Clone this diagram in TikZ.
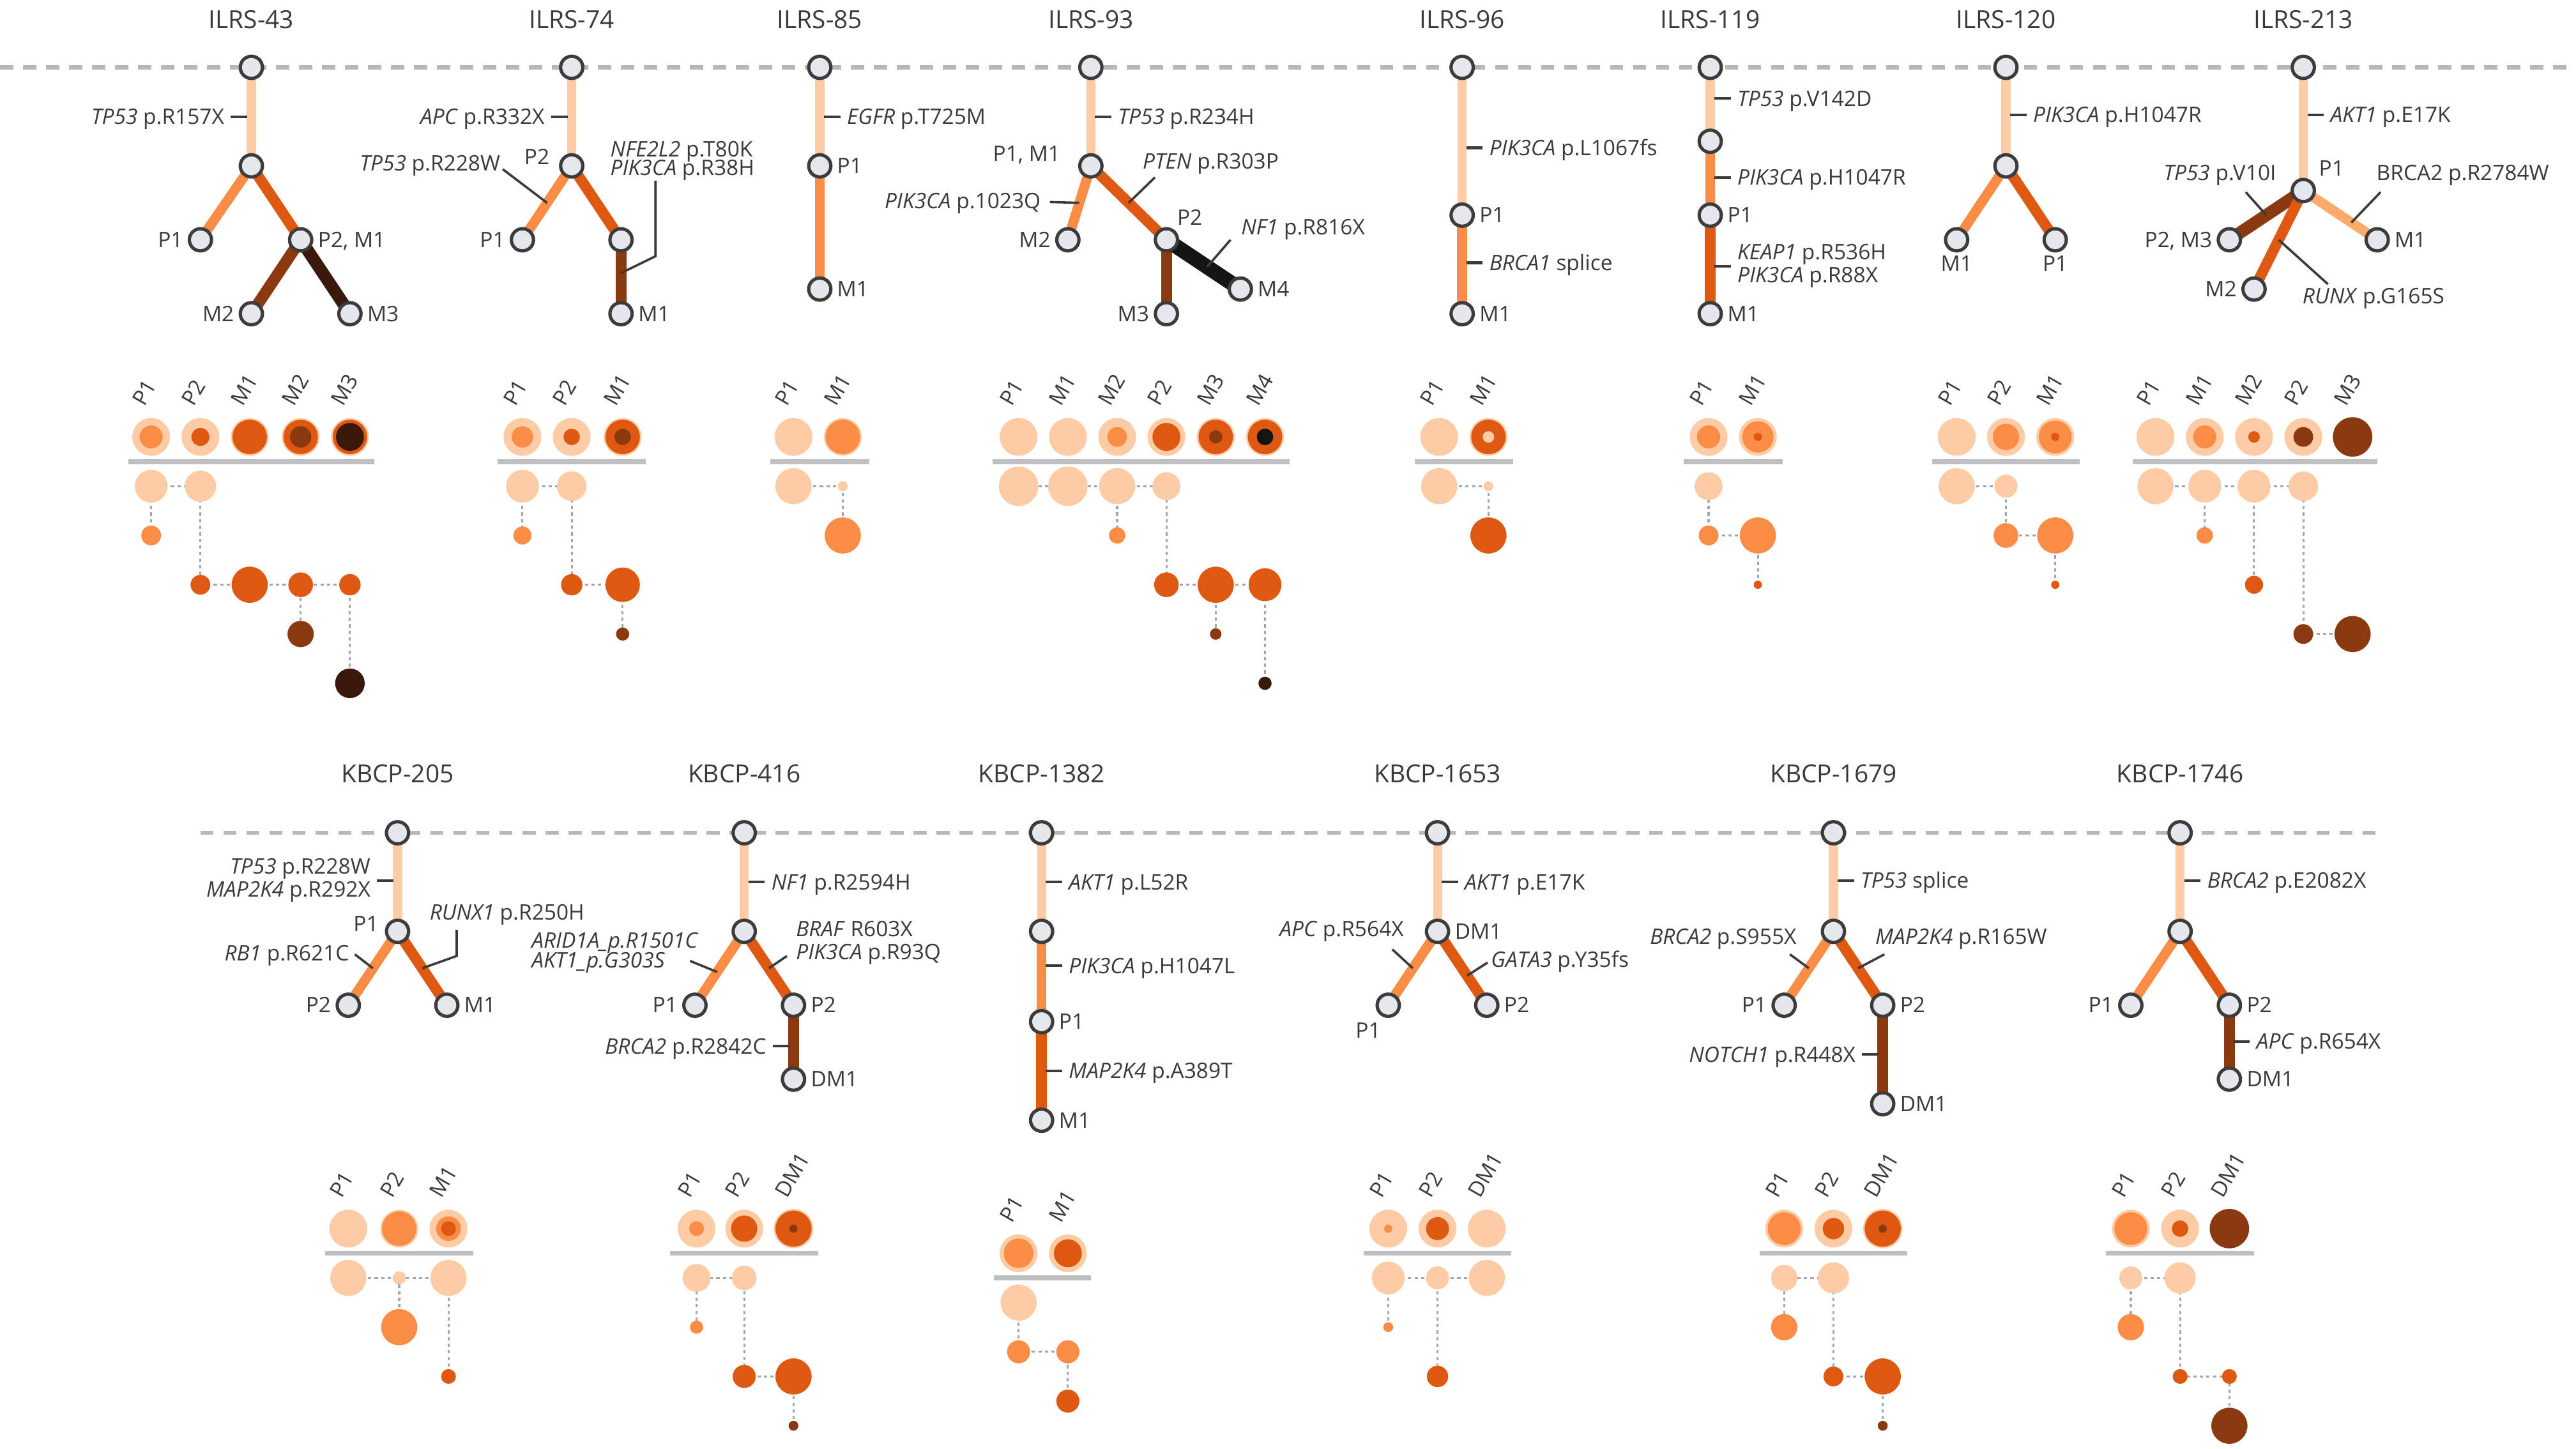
\documentclass[tikz,border=0pt]{standalone}
\usepackage{fontspec}
\setmainfont{Open Sans}
\usetikzlibrary{calc}
\pgfdeclarelayer{back}
\pgfdeclarelayer{bg}
\pgfsetlayers{back,bg,main}
\definecolor{c1}{HTML}{FDCBA4}
\definecolor{c2}{HTML}{FDAA6A}
\definecolor{c3}{HTML}{FB8C46}
\definecolor{c4}{HTML}{DE5811}
\definecolor{c5}{HTML}{8A3A0E}
\definecolor{c6}{HTML}{3A190B}
\definecolor{ck}{HTML}{141414}
\definecolor{txt}{HTML}{3A3A3A}
\definecolor{nodefill}{HTML}{E4E7EB}
\definecolor{nodeedge}{HTML}{3C3C3C}
\definecolor{dashgray}{HTML}{B8B8B8}
\definecolor{sepgray}{HTML}{BFBFC2}
\definecolor{dotgray}{HTML}{9EA6AE}
\newcommand\fsT{\fontsize{43}{48}\selectfont}
\newcommand\fsL{\fontsize{37}{40}\selectfont}
\tikzset{
 tnode/.style={circle,draw=nodeedge,fill=nodefill,line width=2mm,minimum size=13.5mm,inner sep=0pt},
 lbl/.style={text=txt,font=\fsL,inner sep=0.5mm},
 ttl/.style={text=txt,font=\fsT,inner sep=0pt},
 mut/.style={text=txt,font=\fsL,inner sep=0.5mm},
 tick/.style={draw=txt,line width=1.6mm},
 lead/.style={draw=txt,line width=1.4mm},
 sepl/.style={draw=sepgray,line width=3mm},
 dotl/.style={draw=dotgray,line width=1.2mm,dash pattern=on 2mm off 2mm},
 dashl/.style={draw=dashgray,line width=2.5mm,dash pattern=on 8mm off 6mm},
 dot/.style={circle,inner sep=0pt,draw=none},
 col/.style={text=txt,font=\fsL,rotate=60,anchor=base west,inner sep=0pt},
}
\newcommand\TN[3]{\node[tnode] (#1) at (#2,#3) {};}
\newcommand\LL[4]{\node[lbl,anchor=base east] (#1) at (#2-10,#3+4.6) {#4};}
\newcommand\LR[4]{\node[lbl,anchor=base west] (#1) at (#2+10,#3+4.6) {#4};}
\newcommand\LB[4]{\node[lbl,anchor=north] (#1) at (#2,#3+9) {#4};}
\newcommand\NL[5]{\node[lbl,anchor=#4] (#1) at (#2,#3) {#5};}
\newcommand\ED[4]{\draw[draw=#3,line width=#4mm] (#1.center) -- (#2.center);}
\newcommand\ML[4]{\node[mut,anchor=base east] (#1) at (#2-16,#3+4.6) {#4};
 \draw[tick] ([xshift=3.5mm,yshift=4.6mm]#1.base east) -- ([xshift=13.5mm,yshift=4.6mm]#1.base east);}
\newcommand\MR[4]{\node[mut,anchor=base west] (#1) at (#2+16,#3+4.6) {#4};
 \draw[tick] ([xshift=-13.5mm,yshift=4.6mm]#1.base west) -- ([xshift=-3.5mm,yshift=4.6mm]#1.base west);}
\newcommand\MLt[4]{\node[mut,anchor=east,align=right] (#1) at (#2-16,#3) {#4};
 \draw[tick] ([xshift=3.5mm]#1.east) -- ([xshift=13.5mm]#1.east);}
\newcommand\MRt[4]{\node[mut,anchor=west,align=left] (#1) at (#2+16,#3) {#4};
 \draw[tick] ([xshift=-13.5mm]#1.west) -- ([xshift=-3.5mm]#1.west);}
\newcommand\DT[5]{\node[dot,fill=#4,minimum size=#5mm] (#1) at (#2,#3) {};}
\newcommand\CL[4]{\node[col] (#1) at (#2-4,#3) {#4};}
\newcommand\DL[2]{\begin{pgfonlayer}{bg}\draw[dotl] (#1.center) -- (#2.center);\end{pgfonlayer}}
\newcommand\SEP[4]{\coordinate (#1a) at (#2,#4); \coordinate (#1b) at (#3,#4); \draw[sepl] (#1a) -- (#1b);}
\begin{document}
\begin{tikzpicture}[x=1mm,y=-1mm]
\useasboundingbox (0,0) rectangle (1568,882);
\begin{pgfonlayer}{back}
\fill[white] (0,0) rectangle (1568,882);
\end{pgfonlayer}
\coordinate (dashA1) at (0,41); \coordinate (dashA2) at (1568,41);
\coordinate (dashB1) at (122,507); \coordinate (dashB2) at (1448,507);
\begin{pgfonlayer}{bg}
\draw[dashl] (dashA1) -- (dashA2);
\draw[dashl] (dashB1) -- (dashB2);
\end{pgfonlayer}

% ================= ILRS-43
\node[ttl] (A-t) at (153,12) {ILRS-43};
\TN{A0}{153}{41}\TN{A1}{153}{101}\TN{A2}{122}{146}\TN{A3}{183}{146}\TN{A4}{153}{191}\TN{A5}{213}{191}
\LL{A2l}{122}{146}{P1}\LR{A3l}{183}{146}{P2, M1}\LL{A4l}{153}{191}{M2}\LR{A5l}{213}{191}{M3}
\ML{A-m1}{153}{71}{\textit{TP53} p.R157X}
\begin{pgfonlayer}{bg}
\ED{A0}{A1}{c1}{5.5}\ED{A1}{A2}{c3}{6}\ED{A1}{A3}{c4}{6.5}\ED{A3}{A4}{c5}{7}\ED{A3}{A5}{c6}{7.5}
\end{pgfonlayer}

% ================= ILRS-74
\node[ttl] (B-t) at (348,12) {ILRS-74};
\TN{B0}{348}{41}\TN{B1}{348}{101}\TN{B2}{318}{146}\TN{B3}{378}{146}\TN{B4}{378}{191}
\NL{B1l}{335}{100}{base east}{P2}\LL{B2l}{318}{146}{P1}\LR{B4l}{378}{191}{M1}
\ML{B-m1}{348}{71}{\textit{APC} p.R332X}
\node[mut,anchor=base east] (B-m2) at (305,104) {\textit{TP53} p.R228W};
\coordinate (B-e2) at ($(B1)!0.5!(B2)$);
\draw[lead] ([xshift=1mm,yshift=1mm]B-m2.base east) -- (B-e2);
\node[mut,anchor=west,align=left] (B-m3) at (371,98) {\textit{NFE2L2} p.T80K\\[-3mm]\textit{PIK3CA} p.R38H};
\coordinate (B-k3a) at (399,110); \coordinate (B-k3b) at (399,156);
\coordinate (B-e3) at ($(B3)!0.45!(B4)$);
\draw[lead] (B-k3a) -- (B-k3b) -- (B-e3);
\begin{pgfonlayer}{bg}
\ED{B0}{B1}{c1}{5.5}\ED{B1}{B2}{c3}{6}\ED{B1}{B3}{c4}{6.5}\ED{B3}{B4}{c5}{6.5}
\end{pgfonlayer}

% ================= ILRS-85
\node[ttl] (C-t) at (499,12) {ILRS-85};
\TN{C0}{499}{41}\TN{C1}{499}{101}\TN{C2}{499}{176}
\LR{C1l}{499}{101}{P1}\LR{C2l}{499}{176}{M1}
\MR{C-m1}{499}{71}{\textit{EGFR} p.T725M}
\begin{pgfonlayer}{bg}
\ED{C0}{C1}{c1}{5.5}\ED{C1}{C2}{c3}{6}
\end{pgfonlayer}

% ================= ILRS-93
\node[ttl] (D-t) at (664,12) {ILRS-93};
\TN{D0}{664}{41}\TN{D1}{664}{101}\TN{D2}{650}{146}\TN{D3}{710}{146}\TN{D4}{710}{191}\TN{D5}{755}{176}
\NL{D1l}{646}{98}{base east}{P1, M1}\LL{D2l}{650}{146}{M2}\NL{D3l}{716}{137}{base west}{P2}
\LL{D4l}{710}{191}{M3}\LR{D5l}{755}{176}{M4}
\MR{D-m1}{664}{71}{\textit{TP53} p.R234H}
\node[mut,anchor=base west] (D-m2) at (695,103) {\textit{PTEN} p.R303P};
\coordinate (D-k2) at (703,108); \coordinate (D-e2) at ($(D1)!0.5!(D3)$);
\draw[lead] (D-k2) -- (D-e2);
\node[mut,anchor=base east] (D-m3) at (634,127) {\textit{PIK3CA} p.1023Q};
\coordinate (D-e3) at ($(D1)!0.5!(D2)$);
\draw[lead] ([xshift=5mm,yshift=4mm]D-m3.base east) -- (D-e3);
\node[mut,anchor=base west] (D-m4) at (755,143) {\textit{NF1} p.R816X};
\coordinate (D-k4) at (749,146); \coordinate (D-e4) at ($(D3)!0.55!(D5)$);
\draw[lead] (D-k4) -- (D-e4);
\begin{pgfonlayer}{bg}
\ED{D0}{D1}{c1}{5.5}\ED{D1}{D2}{c3}{6}\ED{D1}{D3}{c4}{6.5}\ED{D3}{D4}{c5}{6.5}\ED{D3}{D5}{ck}{9}
\end{pgfonlayer}

% ================= ILRS-96
\node[ttl] (E-t) at (890,12) {ILRS-96};
\TN{E0}{890}{41}\TN{E1}{890}{131}\TN{E2}{890}{191}
\LR{E1l}{890}{131}{P1}\LR{E2l}{890}{191}{M1}
\MR{E-m1}{890}{90}{\textit{PIK3CA} p.L1067fs}
\MR{E-m2}{890}{160}{\textit{BRCA1} splice}
\begin{pgfonlayer}{bg}
\ED{E0}{E1}{c1}{5.5}\ED{E1}{E2}{c3}{6}
\end{pgfonlayer}

% ================= ILRS-119
\node[ttl] (F-t) at (1041,12) {ILRS-119};
\TN{F0}{1041}{41}\TN{F1}{1041}{86}\TN{F2}{1041}{131}\TN{F3}{1041}{191}
\LR{F2l}{1041}{131}{P1}\LR{F3l}{1041}{191}{M1}
\MR{F-m1}{1041}{60}{\textit{TP53} p.V142D}
\MR{F-m2}{1041}{108}{\textit{PIK3CA} p.H1047R}
\MRt{F-m3}{1041}{162}{\textit{KEAP1} p.R536H\\\textit{PIK3CA} p.R88X}
\begin{pgfonlayer}{bg}
\ED{F0}{F1}{c1}{5.5}\ED{F1}{F2}{c3}{6}\ED{F2}{F3}{c4}{6.5}
\end{pgfonlayer}

% ================= ILRS-120
\node[ttl] (G-t) at (1221,12) {ILRS-120};
\TN{G0}{1221}{41}\TN{G1}{1221}{101}\TN{G2}{1191}{146}\TN{G3}{1251}{146}
\LB{G2l}{1191}{146}{M1}\LB{G3l}{1251}{146}{P1}
\MR{G-m1}{1221}{70}{\textit{PIK3CA} p.H1047R}
\begin{pgfonlayer}{bg}
\ED{G0}{G1}{c1}{5.5}\ED{G1}{G2}{c3}{6}\ED{G1}{G3}{c4}{6.5}
\end{pgfonlayer}

% ================= ILRS-213
\node[ttl] (H-t) at (1402,12) {ILRS-213};
\TN{H0}{1402}{41}\TN{H1}{1402}{116}\TN{H2}{1357}{146}\TN{H3}{1372}{176}\TN{H4}{1447}{146}
\NL{H1l}{1411}{107}{base west}{P1}\LL{H2l}{1357}{146}{P2, M3}\LL{H3l}{1372}{176}{M2}\LR{H4l}{1447}{146}{M1}
\MR{H-m1}{1402}{70}{\textit{AKT1} p.E17K}
\node[mut,anchor=base east] (H-m2) at (1386,110) {\textit{TP53} p.V10I};
\coordinate (H-k2) at (1367,117); \coordinate (H-e2) at ($(H1)!0.5!(H2)$);
\draw[lead] (H-k2) -- (H-e2);
\node[mut,anchor=base west] (H-m3) at (1446,110) {BRCA2 p.R2784W};
\coordinate (H-k3) at (1449,117); \coordinate (H-e3) at ($(H1)!0.65!(H4)$);
\draw[lead] (H-k3) -- (H-e3);
\node[mut,anchor=base west] (H-m4) at (1401,185) {\textit{RUNX} p.G165S};
\coordinate (H-k4) at (1417,173); \coordinate (H-e4) at ($(H1)!0.5!(H3)$);
\draw[lead] (H-k4) -- (H-e4);
\begin{pgfonlayer}{bg}
\ED{H0}{H1}{c1}{5.5}\ED{H1}{H2}{c5}{7.5}\ED{H1}{H3}{c4}{6.5}\ED{H1}{H4}{c2}{6}
\end{pgfonlayer}

% ================= KBCP-205
\node[ttl] (K-t) at (242,471) {KBCP-205};
\TN{K0}{242}{507}\TN{K1}{242}{567}\TN{K2}{212}{612}\TN{K3}{272}{612}
\NL{K1l}{231}{567}{base east}{P1}\LL{K2l}{212}{612}{P2}\LR{K3l}{272}{612}{M1}
\MLt{K-m1}{242}{536}{\textit{TP53} p.R228W\\\textit{MAP2K4} p.R292X}
\node[mut,anchor=base west] (K-m2) at (261,560) {\textit{RUNX1} p.R250H};
\coordinate (K-k2a) at (278,566); \coordinate (K-k2b) at (278,582); \coordinate (K-e2) at ($(K1)!0.5!(K3)$);
\draw[lead] (K-k2a) -- (K-k2b) -- (K-e2);
\node[mut,anchor=base east] (K-m3) at (213,585) {\textit{RB1} p.R621C};
\coordinate (K-k3) at (216,581); \coordinate (K-e3) at ($(K1)!0.5!(K2)$);
\draw[lead] (K-k3) -- (K-e3);
\begin{pgfonlayer}{bg}
\ED{K0}{K1}{c1}{5.5}\ED{K1}{K2}{c3}{6}\ED{K1}{K3}{c4}{6.5}
\end{pgfonlayer}

% ================= KBCP-416
\node[ttl] (L-t) at (453,471) {KBCP-416};
\TN{L0}{453}{507}\TN{L1}{453}{567}\TN{L2}{423}{612}\TN{L3}{483}{612}\TN{L4}{483}{657}
\LL{L2l}{423}{612}{P1}\LR{L3l}{483}{612}{P2}\LR{L4l}{483}{657}{DM1}
\MR{L-m1}{453}{537}{\textit{NF1} p.R2594H}
\node[mut,anchor=west,align=left] (L-m2) at (484,574) {\textit{BRAF} R603X\\\textit{PIK3CA} p.R93Q};
\coordinate (L-k2) at (479,582); \coordinate (L-e2) at ($(L1)!0.5!(L3)$);
\draw[lead] (L-k2) -- (L-e2);
\node[mut,anchor=west,align=left] (L-m3) at (323,580) {\textit{ARID1A\_p.R1501C}\\[-2mm]\textit{AKT1\_p.G303S}};
\coordinate (L-k3) at (420,585); \coordinate (L-e3) at ($(L1)!0.55!(L2)$);
\draw[lead] (L-k3) -- (L-e3);
\ML{L-m4}{483}{637}{\textit{BRCA2} p.R2842C}
\begin{pgfonlayer}{bg}
\ED{L0}{L1}{c1}{5.5}\ED{L1}{L2}{c3}{6}\ED{L1}{L3}{c4}{6.5}\ED{L3}{L4}{c5}{6.5}
\end{pgfonlayer}

% ================= KBCP-1382
\node[ttl] (M-t) at (634,471) {KBCP-1382};
\TN{M0}{634}{507}\TN{M1}{634}{567}\TN{M2}{634}{622}\TN{M3}{634}{682}
\LR{M2l}{634}{622}{P1}\LR{M3l}{634}{682}{M1}
\MR{M-m1}{634}{537}{\textit{AKT1} p.L52R}
\MR{M-m2}{634}{588}{\textit{PIK3CA} p.H1047L}
\MR{M-m3}{634}{652}{\textit{MAP2K4} p.A389T}
\begin{pgfonlayer}{bg}
\ED{M0}{M1}{c1}{5.5}\ED{M1}{M2}{c3}{6}\ED{M2}{M3}{c4}{6.5}
\end{pgfonlayer}

% ================= KBCP-1653
\node[ttl] (N-t) at (875,471) {KBCP-1653};
\TN{N0}{875}{507}\TN{N1}{875}{567}\TN{N2}{845}{612}\TN{N3}{905}{612}
\LR{N1l}{875}{567}{DM1}\NL{N2l}{841}{632}{base east}{P1}\LR{N3l}{905}{612}{P2}
\MR{N-m1}{875}{537}{\textit{AKT1} p.E17K}
\node[mut,anchor=base east] (N-m2) at (855,570) {\textit{APC} p.R564X};
\coordinate (N-k2) at (847.5,578); \coordinate (N-e2) at ($(N1)!0.5!(N2)$);
\draw[lead] (N-k2) -- (N-e2);
\node[mut,anchor=base west] (N-m3) at (907,589) {\textit{GATA3} p.Y35fs};
\coordinate (N-k3) at (905.5,586); \coordinate (N-e3) at ($(N1)!0.6!(N3)$);
\draw[lead] (N-k3) -- (N-e3);
\begin{pgfonlayer}{bg}
\ED{N0}{N1}{c1}{5.5}\ED{N1}{N2}{c3}{6}\ED{N1}{N3}{c4}{6.5}
\end{pgfonlayer}

% ================= KBCP-1679
\node[ttl] (O-t) at (1116,471) {KBCP-1679};
\TN{O0}{1116}{507}\TN{O1}{1116}{567}\TN{O2}{1086}{612}\TN{O3}{1146}{612}\TN{O4}{1146}{672}
\LL{O2l}{1086}{612}{P1}\LR{O3l}{1146}{612}{P2}\LR{O4l}{1146}{672}{DM1}
\MR{O-m1}{1116}{536}{\textit{TP53} splice}
\node[mut,anchor=base east] (O-m2) at (1094,575) {\textit{BRCA2} p.S955X};
\coordinate (O-k2) at (1089.5,581); \coordinate (O-e2) at ($(O1)!0.5!(O2)$);
\draw[lead] (O-k2) -- (O-e2);
\node[mut,anchor=base west] (O-m3) at (1141,575) {\textit{MAP2K4} p.R165W};
\coordinate (O-k3) at (1147,581); \coordinate (O-e3) at ($(O1)!0.5!(O3)$);
\draw[lead] (O-k3) -- (O-e3);
\ML{O-m4}{1146}{642}{\textit{NOTCH1} p.R448X}
\begin{pgfonlayer}{bg}
\ED{O0}{O1}{c1}{5.5}\ED{O1}{O2}{c3}{6}\ED{O1}{O3}{c4}{6.5}\ED{O3}{O4}{c5}{6.5}
\end{pgfonlayer}

% ================= KBCP-1746
\node[ttl] (Q-t) at (1327,471) {KBCP-1746};
\TN{Q0}{1327}{507}\TN{Q1}{1327}{567}\TN{Q2}{1297}{612}\TN{Q3}{1357}{612}\TN{Q4}{1357}{657}
\LL{Q2l}{1297}{612}{P1}\LR{Q3l}{1357}{612}{P2}\LR{Q4l}{1357}{657}{DM1}
\MR{Q-m1}{1327}{536}{\textit{BRCA2} p.E2082X}
\MR{Q-m2}{1357}{634}{\textit{APC} p.R654X}
\begin{pgfonlayer}{bg}
\ED{Q0}{Q1}{c1}{5.5}\ED{Q1}{Q2}{c3}{6}\ED{Q1}{Q3}{c4}{6.5}\ED{Q3}{Q4}{c5}{6.5}
\end{pgfonlayer}

% ================= dot plots, top row
% ILRS-43
\CL{Ad-l1}{92}{248}{P1}\CL{Ad-l2}{122}{248}{P2}\CL{Ad-l3}{152}{248}{M1}\CL{Ad-l4}{183}{248}{M2}\CL{Ad-l5}{213}{248}{M3}
\DT{Ad-t1}{92}{266}{c1}{23}\DT{Ad-t1b}{92}{266}{c3}{14}
\DT{Ad-t2}{122}{266}{c1}{23}\DT{Ad-t2b}{122}{266}{c4}{11}
\DT{Ad-t3}{152}{266}{c1}{23}\DT{Ad-t3b}{152}{266}{c4}{21}
\DT{Ad-t4}{183}{266}{c1}{23}\DT{Ad-t4b}{183}{266}{c4}{21}\DT{Ad-t4c}{183}{266}{c5}{13}
\DT{Ad-t5}{213}{266}{c1}{23}\DT{Ad-t5b}{213}{266}{c4}{21}\DT{Ad-t5c}{213}{266}{c6}{17}
\SEP{Ad-s}{78}{228}{281}
\DT{Ad-11}{92}{296}{c1}{20}\DT{Ad-12}{122}{296}{c1}{19}
\DT{Ad-21}{92}{326}{c3}{12}
\DT{Ad-32}{122}{356}{c4}{12}\DT{Ad-33}{152}{356}{c4}{22}\DT{Ad-34}{183}{356}{c4}{15}\DT{Ad-35}{213}{356}{c4}{13}
\DT{Ad-44}{183}{386}{c5}{16}
\DT{Ad-55}{213}{416}{c6}{18}
\DL{Ad-11}{Ad-12}\DL{Ad-11}{Ad-21}\DL{Ad-12}{Ad-32}\DL{Ad-32}{Ad-33}\DL{Ad-33}{Ad-34}\DL{Ad-34}{Ad-35}\DL{Ad-34}{Ad-44}\DL{Ad-35}{Ad-55}
% ILRS-74
\CL{Bd-l1}{318}{248}{P1}\CL{Bd-l2}{348}{248}{P2}\CL{Bd-l3}{379}{248}{M1}
\DT{Bd-t1}{318}{266}{c1}{23}\DT{Bd-t1b}{318}{266}{c3}{13}
\DT{Bd-t2}{348}{266}{c1}{23}\DT{Bd-t2b}{348}{266}{c4}{10}
\DT{Bd-t3}{379}{266}{c1}{23}\DT{Bd-t3b}{379}{266}{c4}{21}\DT{Bd-t3c}{379}{266}{c5}{10}
\SEP{Bd-s}{303}{393}{281}
\DT{Bd-11}{318}{296}{c1}{20}\DT{Bd-12}{348}{296}{c1}{18}
\DT{Bd-21}{318}{326}{c3}{11}
\DT{Bd-32}{348}{356}{c4}{13}\DT{Bd-33}{379}{356}{c4}{21}
\DT{Bd-43}{379}{386}{c5}{8}
\DL{Bd-11}{Bd-12}\DL{Bd-11}{Bd-21}\DL{Bd-12}{Bd-32}\DL{Bd-32}{Bd-33}\DL{Bd-33}{Bd-43}
% ILRS-85
\CL{Cd-l1}{483}{248}{P1}\CL{Cd-l2}{513}{248}{M1}
\DT{Cd-t1}{483}{266}{c1}{23}
\DT{Cd-t2}{513}{266}{c1}{23}\DT{Cd-t2b}{513}{266}{c3}{21}
\SEP{Cd-s}{469}{529}{281}
\DT{Cd-11}{483}{296}{c1}{22}\DT{Cd-12}{513}{296}{c1}{6}
\DT{Cd-22}{513}{326}{c3}{22}
\DL{Cd-11}{Cd-12}\DL{Cd-12}{Cd-22}
% ILRS-93
\CL{Dd-l1}{620}{248}{P1}\CL{Dd-l2}{650}{248}{M1}\CL{Dd-l3}{680}{248}{M2}\CL{Dd-l4}{710}{248}{P2}\CL{Dd-l5}{740}{248}{M3}\CL{Dd-l6}{770}{248}{M4}
\DT{Dd-t1}{620}{266}{c1}{23}
\DT{Dd-t2}{650}{266}{c1}{23}
\DT{Dd-t3}{680}{266}{c1}{23}\DT{Dd-t3b}{680}{266}{c3}{12}
\DT{Dd-t4}{710}{266}{c1}{23}\DT{Dd-t4b}{710}{266}{c4}{17}
\DT{Dd-t5}{740}{266}{c1}{23}\DT{Dd-t5b}{740}{266}{c4}{21}\DT{Dd-t5c}{740}{266}{c5}{8}
\DT{Dd-t6}{770}{266}{c1}{23}\DT{Dd-t6b}{770}{266}{c4}{21}\DT{Dd-t6c}{770}{266}{ck}{10}
\SEP{Dd-s}{604}{785}{281}
\DT{Dd-11}{620}{296}{c1}{24}\DT{Dd-12}{650}{296}{c1}{24}\DT{Dd-13}{680}{296}{c1}{22}\DT{Dd-14}{710}{296}{c1}{17}
\DT{Dd-23}{680}{326}{c3}{10}
\DT{Dd-34}{710}{356}{c4}{15}\DT{Dd-35}{740}{356}{c4}{22}\DT{Dd-36}{770}{356}{c4}{20}
\DT{Dd-45}{740}{386}{c5}{7}
\DT{Dd-56}{770}{416}{c6}{8}
\DL{Dd-11}{Dd-12}\DL{Dd-12}{Dd-13}\DL{Dd-13}{Dd-14}\DL{Dd-13}{Dd-23}\DL{Dd-14}{Dd-34}\DL{Dd-34}{Dd-35}\DL{Dd-35}{Dd-36}\DL{Dd-35}{Dd-45}\DL{Dd-36}{Dd-56}
% ILRS-96
\CL{Ed-l1}{876}{248}{P1}\CL{Ed-l2}{906}{248}{M1}
\DT{Ed-t1}{876}{266}{c1}{23}
\DT{Ed-t2}{906}{266}{c1}{23}\DT{Ed-t2b}{906}{266}{c4}{21}\DT{Ed-t2c}{906}{266}{c1}{7}
\SEP{Ed-s}{861}{921}{281}
\DT{Ed-11}{876}{296}{c1}{22}\DT{Ed-12}{906}{296}{c1}{6}
\DT{Ed-22}{906}{326}{c4}{22}
\DL{Ed-11}{Ed-12}\DL{Ed-12}{Ed-22}
% ILRS-119
\CL{Fd-l1}{1040}{248}{P1}\CL{Fd-l2}{1070}{248}{M1}
\DT{Fd-t1}{1040}{266}{c1}{23}\DT{Fd-t1b}{1040}{266}{c3}{14}
\DT{Fd-t2}{1070}{266}{c1}{23}\DT{Fd-t2b}{1070}{266}{c3}{19}\DT{Fd-t2c}{1070}{266}{c4}{5}
\SEP{Fd-s}{1025}{1085}{281}
\DT{Fd-11}{1040}{296}{c1}{17}
\DT{Fd-21}{1040}{326}{c3}{12}\DT{Fd-22}{1070}{326}{c3}{22}
\DT{Fd-32}{1070}{356}{c4}{5}
\DL{Fd-11}{Fd-21}\DL{Fd-21}{Fd-22}\DL{Fd-22}{Fd-32}
% ILRS-120
\CL{Gd-l1}{1191}{248}{P1}\CL{Gd-l2}{1221}{248}{P2}\CL{Gd-l3}{1251}{248}{M1}
\DT{Gd-t1}{1191}{266}{c1}{23}
\DT{Gd-t2}{1221}{266}{c1}{23}\DT{Gd-t2b}{1221}{266}{c3}{16}
\DT{Gd-t3}{1251}{266}{c1}{23}\DT{Gd-t3b}{1251}{266}{c3}{20}\DT{Gd-t3c}{1251}{266}{c4}{5}
\SEP{Gd-s}{1176}{1266}{281}
\DT{Gd-11}{1191}{296}{c1}{22}\DT{Gd-12}{1221}{296}{c1}{14}
\DT{Gd-22}{1221}{326}{c3}{15}\DT{Gd-23}{1251}{326}{c3}{22}
\DT{Gd-33}{1251}{356}{c4}{5}
\DL{Gd-11}{Gd-12}\DL{Gd-12}{Gd-22}\DL{Gd-22}{Gd-23}\DL{Gd-23}{Gd-33}
% ILRS-213
\CL{Hd-l1}{1312}{248}{P1}\CL{Hd-l2}{1342}{248}{M1}\CL{Hd-l3}{1372}{248}{M2}\CL{Hd-l4}{1402}{248}{P2}\CL{Hd-l5}{1432}{248}{M3}
\DT{Hd-t1}{1312}{266}{c1}{23}
\DT{Hd-t2}{1342}{266}{c1}{23}\DT{Hd-t2b}{1342}{266}{c3}{14}
\DT{Hd-t3}{1372}{266}{c1}{23}\DT{Hd-t3b}{1372}{266}{c4}{7}
\DT{Hd-t4}{1402}{266}{c1}{23}\DT{Hd-t4b}{1402}{266}{c5}{12}
\DT{Hd-t5}{1432}{266}{c5}{24}
\SEP{Hd-s}{1298}{1447}{281}
\DT{Hd-11}{1312}{296}{c1}{22}\DT{Hd-12}{1342}{296}{c1}{20}\DT{Hd-13}{1372}{296}{c1}{20}\DT{Hd-14}{1402}{296}{c1}{18}
\DT{Hd-22}{1342}{326}{c3}{10}
\DT{Hd-33}{1372}{356}{c4}{11}
\DT{Hd-44}{1402}{386}{c5}{12}\DT{Hd-45}{1432}{386}{c5}{22}
\DL{Hd-11}{Hd-12}\DL{Hd-12}{Hd-13}\DL{Hd-13}{Hd-14}\DL{Hd-12}{Hd-22}\DL{Hd-13}{Hd-33}\DL{Hd-14}{Hd-44}\DL{Hd-44}{Hd-45}

% ================= dot plots, bottom row
% KBCP-205
\CL{Kd-l1}{212}{730}{P1}\CL{Kd-l2}{243}{730}{P2}\CL{Kd-l3}{273}{730}{M1}
\DT{Kd-t1}{212}{748}{c1}{23}
\DT{Kd-t2}{243}{748}{c1}{23}\DT{Kd-t2b}{243}{748}{c3}{21}
\DT{Kd-t3}{273}{748}{c1}{23}\DT{Kd-t3b}{273}{748}{c3}{15}\DT{Kd-t3c}{273}{748}{c4}{9}
\SEP{Kd-s}{198}{288}{763}
\DT{Kd-11}{212}{778}{c1}{22}\DT{Kd-12}{243}{778}{c1}{8}\DT{Kd-13}{273}{778}{c1}{22}
\DT{Kd-22}{243}{808}{c3}{22}
\DT{Kd-33}{273}{838}{c4}{9}
\DL{Kd-11}{Kd-12}\DL{Kd-12}{Kd-13}\DL{Kd-12}{Kd-22}\DL{Kd-13}{Kd-33}
% KBCP-416
\CL{Ld-l1}{424}{730}{P1}\CL{Ld-l2}{453}{730}{P2}\CL{Ld-l3}{483}{730}{DM1}
\DT{Ld-t1}{424}{748}{c1}{23}\DT{Ld-t1b}{424}{748}{c3}{9}
\DT{Ld-t2}{453}{748}{c1}{23}\DT{Ld-t2b}{453}{748}{c4}{16}
\DT{Ld-t3}{483}{748}{c1}{24}\DT{Ld-t3b}{483}{748}{c4}{22}\DT{Ld-t3c}{483}{748}{c5}{5}
\SEP{Ld-s}{408}{498}{763}
\DT{Ld-11}{424}{778}{c1}{17}\DT{Ld-12}{453}{778}{c1}{15}
\DT{Ld-21}{424}{808}{c3}{8}
\DT{Ld-32}{453}{838}{c4}{14}\DT{Ld-33}{483}{838}{c4}{22}
\DT{Ld-43}{483}{868}{c5}{6}
\DL{Ld-11}{Ld-12}\DL{Ld-11}{Ld-21}\DL{Ld-12}{Ld-32}\DL{Ld-32}{Ld-33}\DL{Ld-33}{Ld-43}
% KBCP-1382
\CL{Md-l1}{620}{745}{P1}\CL{Md-l2}{650}{745}{M1}
\DT{Md-t1}{620}{763}{c1}{23}\DT{Md-t1b}{620}{763}{c3}{18}
\DT{Md-t2}{650}{763}{c1}{23}\DT{Md-t2b}{650}{763}{c4}{17}
\SEP{Md-s}{605}{664}{778}
\DT{Md-11}{620}{793}{c1}{22}
\DT{Md-21}{620}{823}{c3}{14}\DT{Md-22}{650}{823}{c3}{14}
\DT{Md-32}{650}{853}{c4}{14}
\DL{Md-11}{Md-21}\DL{Md-21}{Md-22}\DL{Md-22}{Md-32}
% KBCP-1653
\CL{Nd-l1}{845}{730}{P1}\CL{Nd-l2}{875}{730}{P2}\CL{Nd-l3}{905}{730}{DM1}
\DT{Nd-t1}{845}{748}{c1}{23}\DT{Nd-t1b}{845}{748}{c3}{5}
\DT{Nd-t2}{875}{748}{c1}{23}\DT{Nd-t2b}{875}{748}{c4}{14}
\DT{Nd-t3}{905}{748}{c1}{23}
\SEP{Nd-s}{830}{920}{763}
\DT{Nd-11}{845}{778}{c1}{20}\DT{Nd-12}{875}{778}{c1}{14}\DT{Nd-13}{905}{778}{c1}{22}
\DT{Nd-21}{845}{808}{c3}{6}
\DT{Nd-32}{875}{838}{c4}{13}
\DL{Nd-11}{Nd-12}\DL{Nd-12}{Nd-13}\DL{Nd-11}{Nd-21}\DL{Nd-12}{Nd-32}
% KBCP-1679
\CL{Od-l1}{1086}{730}{P1}\CL{Od-l2}{1116}{730}{P2}\CL{Od-l3}{1146}{730}{DM1}
\DT{Od-t1}{1086}{748}{c1}{23}\DT{Od-t1b}{1086}{748}{c3}{20}
\DT{Od-t2}{1116}{748}{c1}{23}\DT{Od-t2b}{1116}{748}{c4}{13}
\DT{Od-t3}{1146}{748}{c1}{24}\DT{Od-t3b}{1146}{748}{c4}{22}\DT{Od-t3c}{1146}{748}{c5}{5}
\SEP{Od-s}{1071}{1161}{763}
\DT{Od-11}{1086}{778}{c1}{16}\DT{Od-12}{1116}{778}{c1}{19}
\DT{Od-21}{1086}{808}{c3}{16}
\DT{Od-32}{1116}{838}{c4}{12}\DT{Od-33}{1146}{838}{c4}{22}
\DT{Od-43}{1146}{868}{c5}{6}
\DL{Od-11}{Od-12}\DL{Od-11}{Od-21}\DL{Od-12}{Od-32}\DL{Od-32}{Od-33}\DL{Od-33}{Od-43}
% KBCP-1746
\CL{Qd-l1}{1297}{730}{P1}\CL{Qd-l2}{1327}{730}{P2}\CL{Qd-l3}{1357}{730}{DM1}
\DT{Qd-t1}{1297}{748}{c1}{23}\DT{Qd-t1b}{1297}{748}{c3}{20}
\DT{Qd-t2}{1327}{748}{c1}{23}\DT{Qd-t2b}{1327}{748}{c4}{10}
\DT{Qd-t3}{1357}{748}{c5}{24}
\SEP{Qd-s}{1282}{1372}{763}
\DT{Qd-11}{1297}{778}{c1}{14}\DT{Qd-12}{1327}{778}{c1}{19}
\DT{Qd-21}{1297}{808}{c3}{16}
\DT{Qd-32}{1327}{838}{c4}{9}\DT{Qd-33}{1357}{838}{c4}{9}
\DT{Qd-43}{1357}{868}{c5}{22}
\DL{Qd-11}{Qd-12}\DL{Qd-11}{Qd-21}\DL{Qd-12}{Qd-32}\DL{Qd-32}{Qd-33}\DL{Qd-33}{Qd-43}
\end{tikzpicture}
\end{document}
